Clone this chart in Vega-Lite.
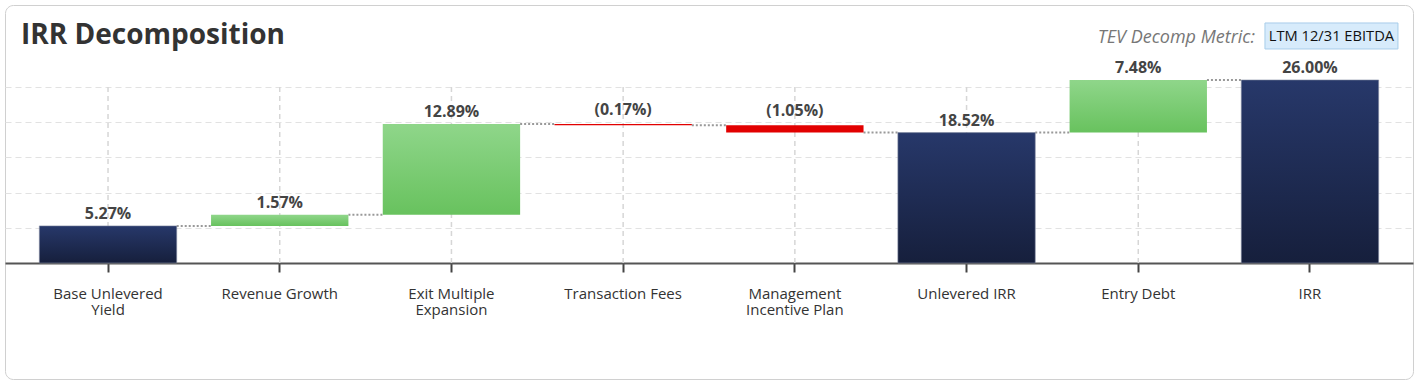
{
  "$schema": "https://vega.github.io/schema/vega-lite/v6.json",
  "width": 1408,
  "height": 374,
  "autosize": "none",
  "padding": {"left": 5, "top": 5, "right": 7, "bottom": 4},
  "background": "white",
  "config": {
    "view": {"stroke": "#d0d0d0", "cornerRadius": 8, "strokeWidth": 1},
    "font": "Open Sans"
  },
  "title": {
    "text": "IRR Decomposition",
    "anchor": "start",
    "frame": "group",
    "offset": -67,
    "dx": 16,
    "baseline": "alphabetic",
    "fontSize": 28,
    "fontWeight": "bold",
    "color": "#333333",
    "font": "Open Sans"
  },
  "datasets": {
    "steps": [
      {"cat": "Base Unlevered Yield", "start": 0, "end": 5.27, "kind": "total", "label": "5.27%"},
      {"cat": "Revenue Growth", "start": 5.27, "end": 6.84, "kind": "pos", "label": "1.57%"},
      {"cat": "Exit Multiple Expansion", "start": 6.84, "end": 19.73, "kind": "pos", "label": "12.89%"},
      {"cat": "Transaction Fees", "start": 19.73, "end": 19.56, "kind": "neg", "label": "(0.17%)"},
      {"cat": "Management Incentive Plan", "start": 19.56, "end": 18.52, "kind": "neg", "label": "(1.05%)"},
      {"cat": "Unlevered IRR", "start": 0, "end": 18.52, "kind": "total", "label": "18.52%"},
      {"cat": "Entry Debt", "start": 18.52, "end": 26.0, "kind": "pos", "label": "7.48%"},
      {"cat": "IRR", "start": 0, "end": 26.0, "kind": "total", "label": "26.00%"}
    ],
    "links": [
      {"from": "Base Unlevered Yield", "to": "Revenue Growth", "level": 5.27},
      {"from": "Revenue Growth", "to": "Exit Multiple Expansion", "level": 6.84},
      {"from": "Exit Multiple Expansion", "to": "Transaction Fees", "level": 19.73},
      {"from": "Transaction Fees", "to": "Management Incentive Plan", "level": 19.56},
      {"from": "Management Incentive Plan", "to": "Unlevered IRR", "level": 18.52},
      {"from": "Unlevered IRR", "to": "Entry Debt", "level": 18.52},
      {"from": "Entry Debt", "to": "IRR", "level": 26.0}
    ]
  },
  "data": {"name": "steps"},
  "layer": [
    {
      "mark": {"type": "rule", "color": "#d6d6d6", "strokeWidth": 1.5, "strokeDash": [5, 4]},
      "encoding": {
        "x": {
          "field": "cat",
          "type": "nominal",
          "sort": null,
          "scale": {
            "domain": ["Base Unlevered Yield", "Revenue Growth", "Exit Multiple Expansion", "Transaction Fees", "Management Incentive Plan", "Unlevered IRR", "Entry Debt", "IRR"],
            "paddingInner": 0.2,
            "paddingOuter": 0.2
          },
          "axis": {
            "title": null,
            "orient": "bottom",
            "offset": -116,
            "grid": false,
            "domainColor": "#555555",
            "domainWidth": 2,
            "tickColor": "#444444",
            "tickWidth": 2,
            "tickSize": 9,
            "labelPadding": 14,
            "labelFontSize": 15,
            "labelColor": "#333333",
            "labelFont": "Open Sans",
            "labelAngle": 0,
            "labelLineHeight": 16,
            "labelLimit": 0,
            "labelExpr": "datum.label == 'Base Unlevered Yield' ? ['Base Unlevered', 'Yield'] : datum.label == 'Exit Multiple Expansion' ? ['Exit Multiple', 'Expansion'] : datum.label == 'Management Incentive Plan' ? ['Management', 'Incentive Plan'] : datum.label"
          }
        },
        "y": {
          "datum": 0,
          "type": "quantitative",
          "scale": {"domain": [-16.48, 36.65], "nice": false, "zero": false},
          "axis": {
            "values": [5, 10, 15, 20, 25],
            "grid": true,
            "gridDash": [6, 4],
            "gridColor": "#e2e2e2",
            "gridWidth": 1.2,
            "labels": false,
            "ticks": false,
            "domain": false,
            "title": null
          }
        },
        "y2": {"datum": 25}
      }
    },
    {
      "data": {"name": "links"},
      "mark": {"type": "rule", "color": "#999999", "strokeWidth": 2, "strokeDash": [2, 2]},
      "encoding": {
        "x": {"field": "from", "type": "nominal", "bandPosition": 1},
        "x2": {"field": "to", "bandPosition": 0},
        "y": {"field": "level", "type": "quantitative"}
      }
    },
    {
      "transform": [{"filter": "datum.kind == 'total'"}],
      "mark": {
        "type": "bar",
        "color": {"gradient": "linear", "x1": 0, "y1": 0, "x2": 0, "y2": 1, "stops": [{"offset": 0, "color": "#27386a"}, {"offset": 1, "color": "#161f3c"}]},
        "stroke": "#7f889f",
        "strokeWidth": 0.6
      },
      "encoding": {
        "x": {"field": "cat", "type": "nominal"},
        "y": {"field": "start", "type": "quantitative"},
        "y2": {"field": "end"}
      }
    },
    {
      "transform": [{"filter": "datum.kind == 'pos'"}],
      "mark": {
        "type": "bar",
        "color": {"gradient": "linear", "x1": 0, "y1": 0, "x2": 0, "y2": 1, "stops": [{"offset": 0, "color": "#8fd68a"}, {"offset": 1, "color": "#68c25e"}]}
      },
      "encoding": {
        "x": {"field": "cat", "type": "nominal"},
        "y": {"field": "start", "type": "quantitative"},
        "y2": {"field": "end"}
      }
    },
    {
      "transform": [{"filter": "datum.kind == 'neg'"}],
      "mark": {"type": "bar", "color": "#e20000"},
      "encoding": {
        "x": {"field": "cat", "type": "nominal"},
        "y": {"field": "start", "type": "quantitative"},
        "y2": {"field": "end"}
      }
    },
    {
      "transform": [{"filter": "datum.kind != 'neg'"}],
      "mark": {"type": "text", "baseline": "alphabetic", "dy": -7, "fontSize": 16, "fontWeight": "bold", "color": "#444444", "font": "Open Sans"},
      "encoding": {
        "x": {"field": "cat", "type": "nominal"},
        "y": {"field": "end", "type": "quantitative"},
        "text": {"field": "label"}
      }
    },
    {
      "transform": [{"filter": "datum.kind == 'neg'"}],
      "mark": {"type": "text", "baseline": "alphabetic", "dy": -9, "fontSize": 16, "fontWeight": "bold", "color": "#444444", "font": "Open Sans"},
      "encoding": {
        "x": {"field": "cat", "type": "nominal"},
        "y": {"field": "start", "type": "quantitative"},
        "text": {"field": "label"}
      }
    },
    {
      "data": {"values": [{"caption": "TEV Decomp Metric:", "metric": "LTM 12/31 EBITDA"}]},
      "mark": {"type": "text", "align": "right", "baseline": "alphabetic", "dx": -55, "fontSize": 18, "fontStyle": "italic", "color": "#777777", "font": "Open Sans"},
      "encoding": {
        "x": {"datum": "IRR", "type": "nominal"},
        "y": {"datum": 31.25, "type": "quantitative"},
        "text": {"field": "caption"}
      }
    },
    {
      "data": {"values": [{"caption": "TEV Decomp Metric:", "metric": "LTM 12/31 EBITDA"}]},
      "mark": {"type": "point", "shape": "M-0.677,-0.1955H1.323V0.1955H-0.677Z", "size": 17689, "filled": true, "fill": "#d7ebfb", "stroke": "#a8cdea", "strokeWidth": 1, "opacity": 1},
      "encoding": {
        "x": {"datum": "IRR", "type": "nominal"},
        "y": {"datum": 32.25, "type": "quantitative"}
      }
    },
    {
      "data": {"values": [{"caption": "TEV Decomp Metric:", "metric": "LTM 12/31 EBITDA"}]},
      "mark": {"type": "text", "align": "center", "baseline": "alphabetic", "dx": 21.5, "fontSize": 14.7, "color": "#111111", "font": "Open Sans"},
      "encoding": {
        "x": {"datum": "IRR", "type": "nominal"},
        "y": {"datum": 31.54, "type": "quantitative"},
        "text": {"field": "metric"}
      }
    }
  ]
}
